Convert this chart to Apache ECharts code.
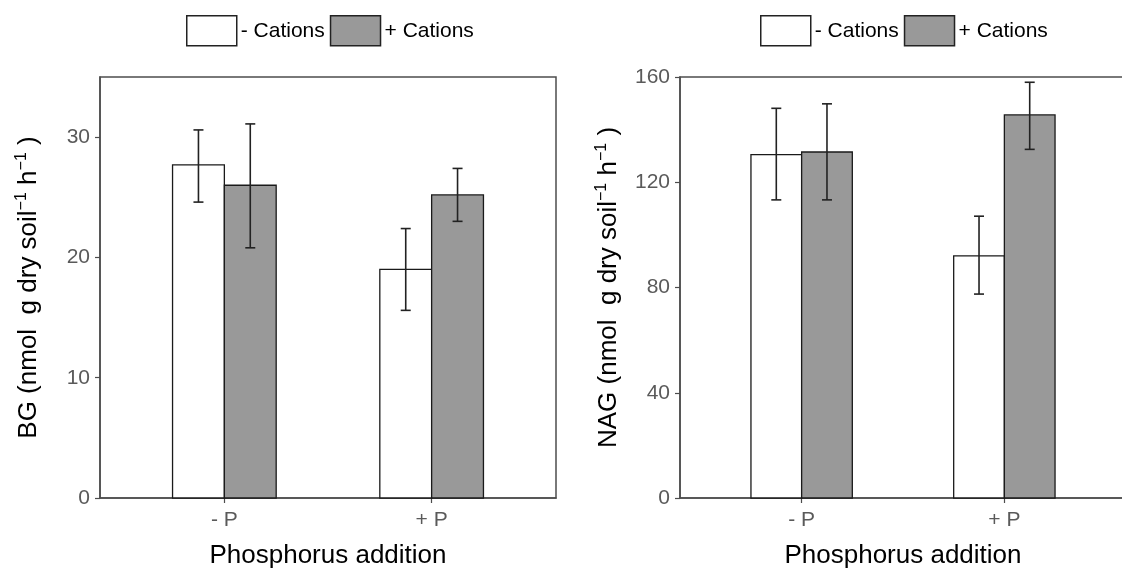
<!DOCTYPE html>
<html>
<head>
<meta charset="utf-8">
<title>BG and NAG activity by phosphorus and cation addition</title>
<script src="https://cdn.jsdelivr.net/npm/echarts@6/dist/echarts.min.js"></script>
<style>
  html, body { margin: 0; padding: 0; background: #fff; }
  #chart { width: 1122px; height: 569px; }
</style>
</head>
<body>
<div id="chart"></div>
<script>
// Treatment levels on the x axis (positions 1 and 2)
const phosphorus = ['- P', '+ P'];
const seriesNames = ['- Cations', '+ Cations'];

// BG activity (nmol g dry soil^-1 h^-1): means and error-bar limits
const bgMinusCat = [27.7, 19.0];
const bgMinusCatLo = [24.6, 15.6];
const bgMinusCatHi = [30.6, 22.4];
const bgPlusCat = [26.0, 25.2];
const bgPlusCatLo = [20.8, 23.0];
const bgPlusCatHi = [31.1, 27.4];

// NAG activity (nmol g dry soil^-1 h^-1): means and error-bar limits
const nagMinusCat = [130.5, 92.0];
const nagMinusCatLo = [113.3, 77.5];
const nagMinusCatHi = [148.1, 107.1];
const nagPlusCat = [131.5, 145.6];
const nagPlusCatLo = [113.3, 132.5];
const nagPlusCatHi = [149.8, 158.0];

// Axis ticks
const bgTicks = [0, 10, 20, 30];
const nagTicks = [0, 40, 80, 120, 160];

const FONT = '"Liberation Sans", Arial, Helvetica, sans-serif';
const FILLS = ['#ffffff', '#999999'];
const EDGE = '#1a1a1a';
const DODGE = 0.125;   // half of the bar width, in x-axis units
const BAR_W = 0.25;    // bar width, in x-axis units

function rows(means, lo, hi) {
  return means.map((m, i) => [i + 1, m, lo[i], hi[i]]);
}

function barRenderer(offset, fill) {
  return function (params, api) {
    const x = api.value(0) + offset;
    const base = api.coord([x, 0]);
    const top = api.coord([x, api.value(1)]);
    const lo = api.coord([x, api.value(2)]);
    const hi = api.coord([x, api.value(3)]);
    const bw = api.size([BAR_W, 0])[0];
    const cap = 5;
    return {
      type: 'group',
      children: [
        { type: 'rect',
          shape: { x: top[0] - bw / 2, y: top[1], width: bw, height: base[1] - top[1] },
          style: { fill: fill, stroke: EDGE, lineWidth: 1.3 } },
        { type: 'line', shape: { x1: lo[0], y1: lo[1], x2: hi[0], y2: hi[1] },
          style: { stroke: '#222', lineWidth: 1.6 } },
        { type: 'line', shape: { x1: hi[0] - cap, y1: hi[1], x2: hi[0] + cap, y2: hi[1] },
          style: { stroke: '#222', lineWidth: 1.6 } },
        { type: 'line', shape: { x1: lo[0] - cap, y1: lo[1], x2: lo[0] + cap, y2: lo[1] },
          style: { stroke: '#222', lineWidth: 1.6 } }
      ]
    };
  };
}

function makeSeries(name, idx, data, offset, fill) {
  return {
    name: name, type: 'custom', xAxisIndex: idx, yAxisIndex: idx,
    itemStyle: { color: fill, borderColor: EDGE, borderWidth: 1.3 },
    encode: { x: 0, y: 1 },
    renderItem: barRenderer(offset, fill),
    data: data
  };
}

function xAxis(idx) {
  return {
    type: 'value', gridIndex: idx, min: 0.4, max: 2.6,
    splitLine: { show: false },
    axisLine: { show: true, onZero: false, lineStyle: { color: '#4d4d4d', width: 1.5 } },
    axisTick: { show: true, customValues: [1, 2], length: 5, lineStyle: { color: '#4d4d4d', width: 1.2 } },
    axisLabel: { customValues: [1, 2], formatter: v => phosphorus[Math.round(v) - 1],
      fontSize: 21, color: '#5a5a5a', fontFamily: FONT, margin: 12 },
    name: 'Phosphorus addition', nameLocation: 'middle', nameGap: 45,
    nameTextStyle: { fontSize: 26, color: '#000', fontFamily: FONT }
  };
}

function yAxis(idx, max, interval, ticks, label) {
  return {
    type: 'value', gridIndex: idx, min: 0, max: max, interval: interval,
    splitLine: { show: false },
    axisLine: { show: true, lineStyle: { color: '#4d4d4d', width: 1.5 } },
    axisTick: { show: true, customValues: ticks, length: 5, lineStyle: { color: '#4d4d4d', width: 1.2 } },
    axisLabel: { customValues: ticks, fontSize: 21, color: '#5a5a5a', fontFamily: FONT, margin: 10 },
    name: '{t|' + label + ' (nmol  g dry soil}{s|−1}{t| h}{s|−1}{t| )}',
    nameLocation: 'middle', nameRotate: 90, nameGap: 56,
    nameTextStyle: {
      rich: {
        t: { fontSize: 26, color: '#000', fontFamily: FONT, lineHeight: 30 },
        s: { fontSize: 16, color: '#000', fontFamily: FONT, verticalAlign: 'top' }
      }
    }
  };
}

function legend(left) {
  return {
    left: left, top: 15, padding: 0, orient: 'horizontal',
    itemWidth: 50, itemHeight: 30, itemGap: 5, icon: 'rect',
    selectedMode: false,
    textStyle: { fontSize: 21, color: '#000', fontFamily: FONT, padding: [0, 0, 0, -1] },
    data: seriesNames.map((n, i) => ({
      name: n, itemStyle: { color: FILLS[i], borderColor: '#222', borderWidth: 1.5 }
    }))
  };
}

function grid(left, width) {
  return {
    left: left, top: 77, width: width, height: 421,
    show: true, borderColor: '#4d4d4d', borderWidth: 1.5,
    containLabel: false, outerBoundsMode: 'none'
  };
}

const chart = echarts.init(document.getElementById('chart'), null, { renderer: 'canvas' });
chart.setOption({
  animation: false,
  backgroundColor: '#fff',
  legend: [legend(186), legend(760)],
  grid: [grid(100, 456), grid(680, 446)],
  xAxis: [xAxis(0), xAxis(1)],
  yAxis: [yAxis(0, 35, 10, bgTicks, 'BG'), yAxis(1, 160, 40, nagTicks, 'NAG')],
  series: [
    makeSeries(seriesNames[0], 0, rows(bgMinusCat, bgMinusCatLo, bgMinusCatHi), -DODGE, FILLS[0]),
    makeSeries(seriesNames[1], 0, rows(bgPlusCat, bgPlusCatLo, bgPlusCatHi), DODGE, FILLS[1]),
    makeSeries(seriesNames[0], 1, rows(nagMinusCat, nagMinusCatLo, nagMinusCatHi), -DODGE, FILLS[0]),
    makeSeries(seriesNames[1], 1, rows(nagPlusCat, nagPlusCatLo, nagPlusCatHi), DODGE, FILLS[1])
  ]
});
</script>
</body>
</html>
